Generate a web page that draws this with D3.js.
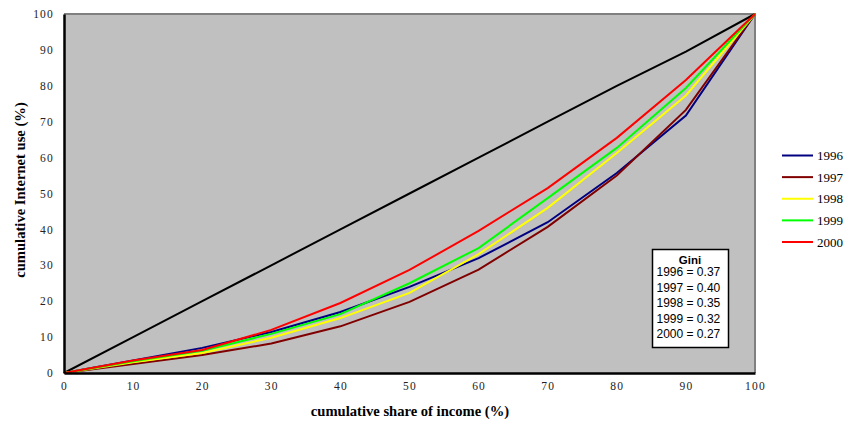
<!DOCTYPE html>
<html><head><meta charset="utf-8">
<script src="https://cdn.jsdelivr.net/npm/d3@7"></script>
<style>body{margin:0;background:#fff}svg{display:block}</style>
</head><body>
<svg id="c" width="846" height="421"></svg>
<script>
const xVals = [0,10,20,30,40,50,60,70,80,90,100];
const equality = [0,10,20,30,40,50,60,70,80,89.5,100];
const years = ["1996","1997","1998","1999","2000"];
const v1996 = [0,3.5,7,11.4,17,24,32,42,55.7,71.7,100];
const v1997 = [0,2.5,5,8.2,13,19.8,28.8,40.7,55,73.3,100];
const v1998 = [0,3,5.6,9.8,15.3,22.3,33.1,46,61.3,77.3,100];
const v1999 = [0,3.3,6.2,10.9,16.4,25,34.8,48.7,62.7,79.4,100];
const v2000 = [0,3.5,6.4,12,19.5,28.7,39.6,51.5,65.5,81.6,100];
const colors = ["#000080","#800000","#ffff00","#00ff00","#ff0000"];
const xTicks = [0,10,20,30,40,50,60,70,80,90,100];
const yTicks = [0,10,20,30,40,50,60,70,80,90,100];
const giniLabels = ["1996 = 0.37","1997 = 0.40","1998 = 0.35","1999 = 0.32","2000 = 0.27"];
const series = [v1996,v1997,v1998,v1999,v2000];

const svg = d3.select("#c");
const L=64, R=755, T=14, B=373;
const x = d3.scaleLinear().domain([0,100]).range([L,R]);
const y = d3.scaleLinear().domain([0,100]).range([B,T]);

svg.append("rect").attr("x",L).attr("y",T).attr("width",R-L).attr("height",B-T).attr("fill","#c0c0c0");
svg.append("path").attr("d",`M${L},${T}H${R}V${B}`).attr("fill","none").attr("stroke","#808080").attr("stroke-width",2);

const line = d3.line().x((d,i)=>x(xVals[i])).y(d=>y(d));
svg.append("path").datum(equality).attr("d",line).attr("fill","none").attr("stroke","#000").attr("stroke-width",2);
series.forEach((s,k)=>{
  svg.append("path").datum(s).attr("d",line).attr("fill","none").attr("stroke",colors[k]).attr("stroke-width",2);
});

const xAxis = svg.append("g").attr("transform",`translate(0,${B})`)
  .call(d3.axisBottom(x).tickValues(xTicks).tickSize(0).tickPadding(9));
const yAxis = svg.append("g").attr("transform",`translate(${L},0)`)
  .call(d3.axisLeft(y).tickValues(yTicks).tickSize(0).tickPadding(10));
[xAxis,yAxis].forEach(g=>{
  g.select(".domain").attr("stroke","#000").attr("stroke-width",2.5);
  g.selectAll("text").attr("font-family","Liberation Serif, Times New Roman, serif")
   .attr("font-size",11.5).attr("fill","#222").attr("letter-spacing","1.2px");
});

svg.append("text").attr("x",410).attr("y",416).attr("text-anchor","middle")
  .attr("font-family","Liberation Serif, serif").attr("font-weight","bold").attr("font-size",14.6)
  .text("cumulative share of income (%)");
svg.append("text").attr("transform",`translate(25,190) rotate(-90)`).attr("text-anchor","middle")
  .attr("font-family","Liberation Serif, serif").attr("font-weight","bold").attr("font-size",14.6)
  .text("cumulative Internet use (%)");

const lg = svg.append("g");
const ly = d3.scalePoint().domain(years).range([155.5,242]);
years.forEach((yr,k)=>{
  lg.append("line").attr("x1",782).attr("x2",813).attr("y1",ly(yr)).attr("y2",ly(yr))
    .attr("stroke",colors[k]).attr("stroke-width",2);
  lg.append("text").attr("x",817).attr("y",ly(yr)+4.5).attr("font-family","Liberation Serif, serif")
    .attr("font-size",13).attr("fill","#000").text(yr);
});

svg.append("rect").attr("x",652.5).attr("y",249.5).attr("width",76).attr("height",98)
  .attr("fill","#fff").attr("stroke","#000").attr("stroke-width",1.5);
svg.append("text").attr("x",690).attr("y",263.5).attr("text-anchor","middle")
  .attr("font-family","Liberation Sans, Arial, sans-serif").attr("font-weight","bold").attr("font-size",11.5).text("Gini");
const gy = d3.scalePoint().domain(giniLabels).range([272,334]);
giniLabels.forEach(t=>{
  svg.append("text").attr("x",656.5).attr("y",gy(t)+4).attr("font-family","Liberation Sans, Arial, sans-serif")
    .attr("font-size",12).attr("fill","#000").text(t);
});
</script>
</body></html>
